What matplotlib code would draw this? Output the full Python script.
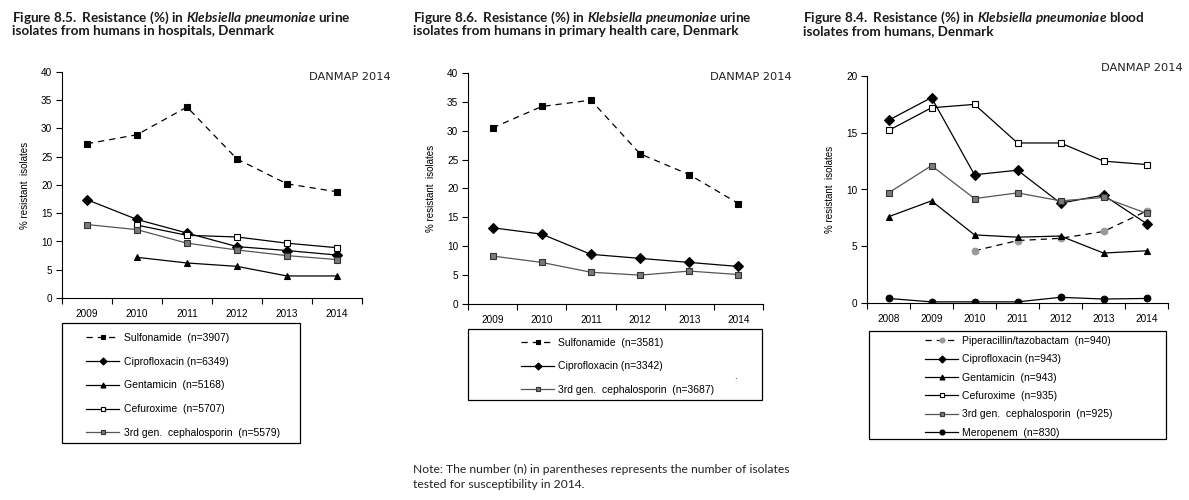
import numpy as np
import matplotlib
matplotlib.use("Agg")
import matplotlib.pyplot as plt
from matplotlib.patches import Rectangle

nan = np.nan

# Figure 8.5 - urine, hospitals
years_a = ["2009", "2010", "2011", "2012", "2013", "2014"]
hosp_sulf = [27.3, 28.9, 33.8, 24.6, 20.2, 18.8]
hosp_cipro = [17.4, 13.9, 11.5, 9.1, 8.4, 7.6]
hosp_gent = [nan, 7.2, 6.2, 5.6, 3.9, 3.9]
hosp_cefur = [nan, 12.9, 11.1, 10.8, 9.7, 8.9]
hosp_ceph3 = [13.0, 12.1, 9.7, 8.5, 7.5, 6.8]

# Figure 8.6 - urine, primary health care
phc_sulf = [30.5, 34.2, 35.3, 26.0, 22.4, 17.4]
phc_cipro = [13.2, 12.1, 8.6, 7.9, 7.2, 6.5]
phc_ceph3 = [8.3, 7.2, 5.5, 5.0, 5.7, 5.1]

# Figure 8.4 - blood
years_b = ["2008", "2009", "2010", "2011", "2012", "2013", "2014"]
blood_pip = [nan, nan, 4.6, 5.5, 5.7, 6.3, 8.1]
blood_cipro = [16.1, 18.1, 11.3, 11.7, 8.8, 9.5, 7.0]
blood_gent = [7.6, 9.0, 6.0, 5.8, 5.9, 4.4, 4.6]
blood_cefur = [15.2, 17.2, 17.5, 14.1, 14.1, 12.5, 12.2]
blood_ceph3 = [9.7, 12.1, 9.2, 9.7, 9.0, 9.3, 7.9]
blood_mero = [0.4, 0.1, 0.1, 0.1, 0.5, 0.35, 0.4]

titles = [
    ("Figure 8.5. Resistance (%) in ", "Klebsiella pneumoniae", " urine",
     "isolates from humans in hospitals, Denmark"),
    ("Figure 8.6. Resistance (%) in ", "Klebsiella pneumoniae", " urine",
     "isolates from humans in primary health care, Denmark"),
    ("Figure 8.4. Resistance (%) in ", "Klebsiella pneumoniae", " blood",
     "isolates from humans, Denmark"),
]

plt.rcParams['font.family'] = ['Liberation Sans', 'DejaVu Sans']
plt.rcParams['mathtext.fontset'] = 'custom'
plt.rcParams['mathtext.rm'] = 'Lato:bold'
plt.rcParams['mathtext.it'] = 'Lato:bold:italic'

GREY = "#7a7a7a"
LGREY = "#999999"
styles = {
    "sulf": dict(color="k", ls=(0, (5, 4)), marker="s", mfc="k", mec="k", ms=4.6),
    "cipro": dict(color="k", ls="-", marker="D", mfc="k", mec="k", ms=4.8),
    "gent": dict(color="k", ls="-", marker="^", mfc="k", mec="k", ms=4.8),
    "cefur": dict(color="k", ls="-", marker="s", mfc="white", mec="k", ms=4.6),
    "ceph3": dict(color="#555555", ls="-", marker="s", mfc=GREY, mec="#333333", ms=4.6),
    "pip": dict(color="k", ls=(0, (5, 4)), marker="o", mfc=LGREY, mec=LGREY, ms=4.8),
    "mero": dict(color="k", ls="-", marker="o", mfc="k", mec="k", ms=4.8),
}

fig = plt.figure(figsize=(11.89, 5), dpi=100)
W, H = 1189, 500


def px_axes(l, t, r, b):
    return fig.add_axes([l / W, 1 - b / H, (r - l) / W, (b - t) / H])


def setup(ax, years, ymax):
    n = len(years)
    ax.set_xlim(-0.5, n - 0.5)
    ax.set_ylim(0, ymax)
    ax.set_xticks(np.arange(n + 1) - 0.5)
    ax.set_xticklabels([])
    ax.set_xticks(np.arange(n), minor=True)
    ax.set_xticklabels(years, minor=True)
    ax.tick_params(axis='x', which='major', direction='out', length=4, width=0.8)
    ax.tick_params(axis='x', which='minor', length=0, pad=8, labelsize=7.2)
    ax.set_yticks(np.arange(0, ymax + 1, 5))
    ax.tick_params(axis='y', direction='out', length=4, width=0.8, labelsize=7.2, pad=3)
    for s in ["top", "right"]:
        ax.spines[s].set_visible(False)
    for s in ["left", "bottom"]:
        ax.spines[s].set_linewidth(0.8)
    ax.set_ylabel("% resistant  isolates", fontsize=7, labelpad=8)


def danmap(x_right, y_mid):
    fig.text(x_right / W, 1 - y_mid / H, "DANMAP 2014", ha="right", va="center",
             fontsize=8.2, family="DejaVu Sans", color="#222222")


def plot_series(ax, years, series):
    x = np.arange(len(years))
    handles = []
    for key, vals, label in series:
        st = styles[key]
        y = np.array(vals, dtype=float)
        m = ~np.isnan(y)
        h, = ax.plot(x[m], y[m], lw=0.9, mew=0.8, label=label, **st)
        handles.append(h)
    return handles


def legend_box(handles, box, anchor, spacing):
    l, t, r, b = box
    fig.patches.append(Rectangle((l / W, 1 - b / H), (r - l) / W, (b - t) / H,
                                 transform=fig.transFigure, fill=False,
                                 edgecolor="k", lw=0.9))
    leg = fig.legend(handles=handles, loc="upper left",
                     bbox_to_anchor=(anchor[0] / W, 1 - anchor[1] / H),
                     frameon=False, fontsize=7.5, handlelength=3.2,
                     handletextpad=0.4, labelspacing=spacing, borderpad=0,
                     borderaxespad=0, markerscale=0.75)
    return leg


# Chart 1
ax1 = px_axes(62, 72, 362, 298)
setup(ax1, years_a, 40)
danmap(391, 77)
h1 = plot_series(ax1, years_a, [
    ("sulf", hosp_sulf, "Sulfonamide  (n=3907)"),
    ("cipro", hosp_cipro, "Ciprofloxacin (n=6349)"),
    ("gent", hosp_gent, "Gentamicin  (n=5168)"),
    ("cefur", hosp_cefur, "Cefuroxime  (n=5707)"),
    ("ceph3", hosp_ceph3, "3rd gen.  cephalosporin  (n=5579)"),
])
legend_box(h1, (62, 323, 300, 443), (86, 333), 1.32)

# Chart 2
ax2 = px_axes(468, 73, 763, 304)
setup(ax2, years_a, 40)
danmap(792, 77)
h2 = plot_series(ax2, years_a, [
    ("sulf", phc_sulf, "Sulfonamide  (n=3581)"),
    ("cipro", phc_cipro, "Ciprofloxacin (n=3342)"),
    ("ceph3", phc_ceph3, "3rd gen.  cephalosporin  (n=3687)"),
])
legend_box(h2, (468, 329, 762, 400), (521, 338), 1.28)
fig.text(735 / W, 1 - 376 / H, ".", fontsize=7, ha="center", va="center")

# Chart 3
ax3 = px_axes(867, 76, 1168, 303)
setup(ax3, years_b, 20)
danmap(1183, 68)
h3 = plot_series(ax3, years_b, [
    ("pip", blood_pip, "Piperacillin/tazobactam  (n=940)"),
    ("cipro", blood_cipro, "Ciprofloxacin (n=943)"),
    ("gent", blood_gent, "Gentamicin  (n=943)"),
    ("cefur", blood_cefur, "Cefuroxime  (n=935)"),
    ("ceph3", blood_ceph3, "3rd gen.  cephalosporin  (n=925)"),
    ("mero", blood_mero, "Meropenem  (n=830)"),
])
legend_box(h3, (869, 331, 1166, 439), (925, 336), 0.8)

# Titles
for (pre, ital, post, line2), x0 in zip(titles, [12, 413, 803]):
    ital_m = ital.replace(" ", r"\ ")
    line1 = ("$\\mathrm{" + pre.replace(" ", r"\ ").replace("%", r"\%") + "}"
             + "\\mathit{" + ital_m + "}"
             + "\\mathrm{" + post.replace(" ", r"\ ") + "}$")
    fig.text(x0 / W, 1 - 22 / H, line1, fontsize=9.7, ha="left", va="baseline", color="#1a1a1a")
    fig.text(x0 / W, 1 - 35 / H, line2, fontsize=9.7, ha="left", va="baseline",
             family="Lato", weight="bold", color="#1a1a1a")

fig.text(413 / W, 1 - 473 / H,
         "Note: The number (n) in parentheses represents the number of isolates",
         fontsize=8.7, family="Lato", ha="left", va="baseline", color="#222222")
fig.text(413 / W, 1 - 488 / H, "tested for susceptibility in 2014.",
         fontsize=8.7, family="Lato", ha="left", va="baseline", color="#222222")

fig.savefig("out.png", dpi=100)
